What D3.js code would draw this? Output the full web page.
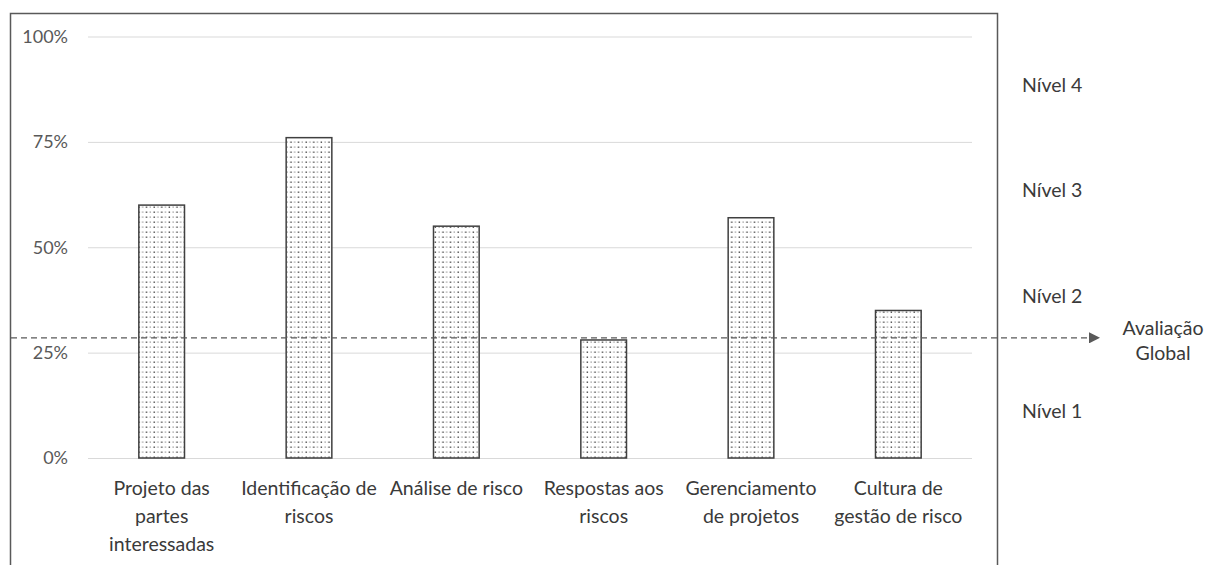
<!DOCTYPE html>
<html>
<head>
<meta charset="utf-8">
<script src="https://cdn.jsdelivr.net/npm/d3@7"></script>
<style>
  html, body { margin: 0; padding: 0; background: #fff; }
  svg { display: block; font-family: Lato, "Liberation Sans", sans-serif; }
</style>
</head>
<body>
<svg id="chart" width="1205" height="565"></svg>
<script>
// Category labels (one entry per printed line)
const categories = [
  ["Projeto das", "partes", "interessadas"],
  ["Identificação de", "riscos"],
  ["Análise de risco"],
  ["Respostas aos", "riscos"],
  ["Gerenciamento", "de projetos"],
  ["Cultura de", "gestão de risco"]
];
// Maturity score per dimension (%)
const values = [60, 76, 55, 28, 57, 35];
// Overall assessment (%)
const globalScore = 28.5;
const globalLabel = ["Avaliação", "Global"];
// Y axis ticks
const yTicks = [0, 25, 50, 75, 100];
// Maturity level names and the height where each one sits (%)
const levelNames = ["Nível 4", "Nível 3", "Nível 2", "Nível 1"];
const levelPos = [88.4, 63.5, 38.4, 11.1];

const svg = d3.select("#chart");

const plot = { left: 88, right: 972, top: 36.5, bottom: 458 };
const textColor = "#3a3a3a";
const labelSize = "19.5px";

const x = d3.scaleBand()
  .domain(d3.range(categories.length))
  .range([plot.left, plot.right])
  .paddingInner(0.69)
  .paddingOuter(0.345);

const y = d3.scaleLinear().domain([0, 100]).range([plot.bottom, plot.top]);

// dotted fill for the bars
const defs = svg.append("defs");
const pat = defs.append("pattern")
  .attr("id", "dots")
  .attr("patternUnits", "userSpaceOnUse")
  .attr("width", 7.6).attr("height", 5);
pat.append("rect").attr("width", 7.6).attr("height", 5).attr("fill", "#fff");
pat.append("rect").attr("x", 1.5).attr("y", 1.5).attr("width", 1.4).attr("height", 1.4).attr("fill", "#444");
pat.append("rect").attr("x", 5.3).attr("y", 1.5).attr("width", 1.2).attr("height", 1.2).attr("fill", "#888");

const marker = defs.append("marker")
  .attr("id", "arrow")
  .attr("viewBox", "0 0 10 10")
  .attr("refX", 10).attr("refY", 5)
  .attr("markerWidth", 12).attr("markerHeight", 11)
  .attr("markerUnits", "userSpaceOnUse")
  .attr("orient", "auto");
marker.append("path").attr("d", "M0,0 L10,5 L0,10 Z").attr("fill", "#595959");

// outer frame (open at the bottom)
svg.append("path")
  .attr("d", "M10.5,570 L10.5,13.5 L997.5,13.5 L997.5,570")
  .attr("fill", "none")
  .attr("stroke", "#595959")
  .attr("stroke-width", 1.5);

// gridlines + tick labels
const yAxis = d3.axisLeft(y)
  .tickValues(yTicks)
  .tickSize(-(plot.right - plot.left))
  .tickPadding(20)
  .tickFormat(d => d + "%");

const gy = svg.append("g")
  .attr("transform", `translate(${plot.left},0)`)
  .call(yAxis);
gy.select(".domain").remove();
gy.selectAll(".tick line").attr("stroke", "#d9d9d9").attr("stroke-width", 1);
gy.selectAll(".tick text")
  .attr("fill", "#595959")
  .style("font-size", "18px")
  .style("font-family", "Lato, sans-serif");

// bars
svg.append("g").selectAll("rect")
  .data(values)
  .join("rect")
  .attr("x", (d, i) => x(i))
  .attr("y", d => y(d))
  .attr("width", x.bandwidth())
  .attr("height", d => y(0) - y(d))
  .attr("fill", "url(#dots)")
  .attr("stroke", "#404040")
  .attr("stroke-width", 1.5);

// category labels
const labels = svg.append("g").selectAll("text")
  .data(categories)
  .join("text")
  .attr("text-anchor", "middle")
  .attr("fill", textColor)
  .style("font-size", labelSize);
labels.each(function (lines, i) {
  d3.select(this).selectAll("tspan")
    .data(lines)
    .join("tspan")
    .attr("x", x(i) + x.bandwidth() / 2)
    .attr("y", (l, j) => 495 + j * 28)
    .text(l => l);
});

// overall assessment line
svg.append("line")
  .attr("x1", 11).attr("x2", 1100)
  .attr("y1", y(globalScore)).attr("y2", y(globalScore))
  .attr("stroke", "#595959")
  .attr("stroke-width", 1.3)
  .attr("stroke-dasharray", "6,4")
  .attr("marker-end", "url(#arrow)");

svg.append("text")
  .attr("text-anchor", "middle")
  .attr("fill", textColor)
  .style("font-size", labelSize)
  .selectAll("tspan")
  .data(globalLabel)
  .join("tspan")
  .attr("x", 1163)
  .attr("y", (d, i) => y(globalScore) - 3 + i * 25)
  .text(d => d);

// level names
svg.append("g").selectAll("text")
  .data(levelNames)
  .join("text")
  .attr("x", 1022)
  .attr("y", (d, i) => y(levelPos[i]) + 7)
  .attr("fill", textColor)
  .style("font-size", labelSize)
  .text(d => d);
</script>
</body>
</html>
